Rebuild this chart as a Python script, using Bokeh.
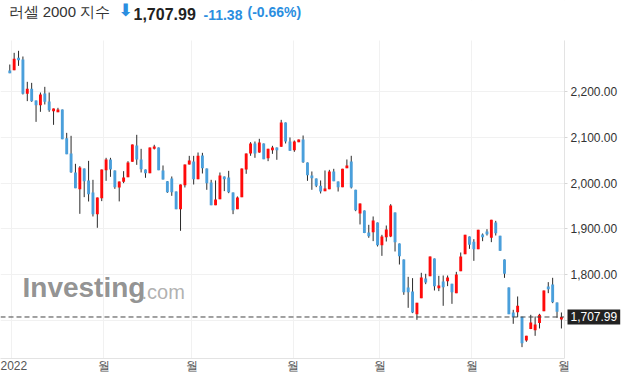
from bokeh.plotting import figure
from bokeh.models import FixedTicker, NumeralTickFormatter, Label, BoxAnnotation
from bokeh.embed import file_html
from bokeh.resources import INLINE

# ---- data (Russell 2000, daily candles) ----
opens = [2245.8, 2246.6, 2273.5, 2269.8, 2194.9, 2205.8, 2180.4, 2170.2, 2195.7, 2178.2,
         2157.1, 2154.9, 2160.7, 2098.2, 2064.7, 2023.3, 1986.9, 2032.0, 2005.8, 1979.6,
         1932.4, 1967.3, 2028.4, 2051.7, 2027.7, 1990.6, 2002.9, 2013.1, 2046.6, 2082.2,
         2051.7, 2029.8, 2021.8, 2074.9, 2077.8, 2027.7, 2004.4, 2010.2, 1981.8, 1943.3,
         1995.7, 2040.7, 2047.3, 2008.7, 2060.4, 2032.0, 2001.5, 1952.0, 1965.1, 2014.6,
         2012.4, 1979.7, 1943.3, 1969.5, 2029.8, 2064.8, 2086.6, 2067.0, 2086.6, 2054.6,
         2072.0, 2077.9, 2079.3, 2132.4, 2090.9, 2072.0, 2089.5, 2095.3, 2045.1, 2016.8,
         2010.2, 1994.2, 1982.6, 1986.9, 2025.5, 2003.7, 1991.3, 2032.8, 2047.3, 1985.5,
         1933.8, 1940.4, 1892.4, 1893.1, 1914.2, 1864.7, 1882.2, 1883.6, 1936.0, 1868.4,
         1833.5, 1772.4, 1763.6, 1714.2, 1749.1, 1792.0, 1797.1, 1835.6, 1770.9, 1785.4,
         1786.2, 1780.4, 1760.0, 1808.0, 1845.1, 1883.6, 1872.0, 1856.0, 1888.0, 1894.5,
         1880.7, 1914.2, 1885.1, 1833.5, 1772.4, 1717.8, 1718.5, 1708.4, 1656.7, 1681.5,
         1679.3, 1694.6, 1720.7, 1774.6, 1778.9, 1739.6, 1702.5]
highs = [2258.9, 2284.4, 2288.8, 2276.4, 2221.1, 2218.9, 2180.4, 2197.8, 2210.2, 2197.8,
         2162.9, 2164.4, 2160.7, 2109.8, 2103.3, 2042.2, 2037.1, 2032.0, 2048.7, 2007.3,
         1968.7, 2029.8, 2055.3, 2055.3, 2027.7, 2003.6, 2026.2, 2048.0, 2084.4, 2105.5,
         2074.9, 2029.8, 2077.8, 2083.7, 2077.8, 2038.6, 2004.4, 2014.6, 1981.8, 1997.1,
         2040.7, 2059.6, 2059.6, 2066.9, 2066.2, 2032.0, 2007.3, 2005.9, 2023.3, 2014.6,
         2026.9, 1979.7, 1971.0, 2032.0, 2064.8, 2089.5, 2090.9, 2096.8, 2086.6, 2075.0,
         2081.5, 2077.9, 2138.2, 2132.4, 2099.7, 2093.1, 2095.3, 2104.0, 2045.1, 2025.5,
         2010.2, 2005.9, 2027.7, 2029.1, 2031.3, 2003.7, 2031.3, 2051.7, 2059.7, 1985.5,
         1955.7, 1940.4, 1909.1, 1927.3, 1914.2, 1887.3, 1907.6, 1954.2, 1936.0, 1868.4,
         1833.5, 1795.6, 1792.7, 1738.9, 1804.4, 1802.2, 1840.0, 1835.6, 1797.8, 1798.5,
         1798.5, 1780.4, 1806.5, 1848.7, 1887.3, 1883.6, 1877.8, 1898.2, 1890.2, 1899.6,
         1920.0, 1917.8, 1885.1, 1833.5, 1772.4, 1723.6, 1752.7, 1708.4, 1666.9, 1712.7,
         1709.1, 1714.9, 1765.8, 1784.0, 1793.5, 1739.6, 1717.8]
lows = [2240.0, 2246.6, 2256.0, 2193.5, 2179.0, 2177.5, 2133.8, 2155.7, 2171.7, 2155.7,
        2127.3, 2154.9, 2096.0, 2063.3, 2022.6, 1989.1, 1933.1, 1969.5, 1960.0, 1927.3,
        1902.6, 1960.8, 2005.1, 2013.8, 1987.6, 1960.2, 2000.0, 2013.1, 2046.6, 2040.0,
        2023.3, 2011.7, 2021.8, 2073.5, 2028.4, 2008.0, 1978.9, 1972.4, 1943.3, 1896.0,
        1990.6, 2040.7, 1997.1, 2008.7, 2021.1, 1985.5, 1952.0, 1952.0, 1965.1, 1982.6,
        1978.2, 1932.4, 1943.3, 1969.5, 2020.4, 2059.7, 2055.3, 2066.2, 2052.4, 2048.0,
        2064.0, 2051.0, 2079.3, 2086.6, 2070.6, 2068.4, 2089.5, 2044.4, 2005.1, 1985.5,
        1991.3, 1977.5, 1982.6, 1986.9, 2004.4, 1981.8, 1991.3, 2032.8, 1988.4, 1938.9,
        1909.9, 1891.0, 1880.8, 1873.5, 1861.8, 1841.4, 1872.7, 1882.2, 1850.9, 1822.5,
        1756.4, 1728.0, 1716.4, 1701.8, 1749.1, 1779.6, 1797.1, 1765.8, 1764.4, 1732.4,
        1775.3, 1736.7, 1760.0, 1808.0, 1845.1, 1856.7, 1830.5, 1856.0, 1873.4, 1885.8,
        1871.3, 1885.8, 1852.3, 1793.4, 1714.2, 1693.1, 1707.6, 1642.2, 1653.8, 1681.5,
        1666.9, 1682.9, 1720.7, 1760.0, 1738.2, 1706.2, 1682.9]
closes = [2240.0, 2271.3, 2268.4, 2194.9, 2205.8, 2179.0, 2170.2, 2193.5, 2177.5, 2159.3,
          2162.9, 2160.7, 2096.0, 2063.3, 2024.0, 1989.1, 2034.2, 2004.4, 1976.0, 1932.4,
          1968.7, 2029.8, 2051.7, 2029.8, 1991.3, 2003.6, 2012.4, 2045.1, 2084.4, 2051.7,
          2030.6, 2021.8, 2077.8, 2080.0, 2028.4, 2008.0, 1980.4, 1980.4, 1943.3, 1997.1,
          2040.7, 2049.5, 2008.7, 2059.6, 2032.8, 2000.0, 1952.0, 1964.4, 2016.8, 2008.8,
          1980.4, 1941.1, 1968.8, 2032.0, 2064.8, 2086.6, 2064.8, 2088.8, 2052.4, 2075.0,
          2077.9, 2072.0, 2132.4, 2090.9, 2070.6, 2090.9, 2095.3, 2045.9, 2017.5, 2010.9,
          1994.2, 1981.8, 1988.4, 2025.5, 2004.4, 1991.3, 2031.3, 2038.6, 1990.6, 1941.1,
          1955.7, 1891.0, 1884.4, 1918.6, 1864.7, 1883.6, 1898.9, 1951.3, 1871.3, 1840.7,
          1762.2, 1762.2, 1717.8, 1738.9, 1794.2, 1783.3, 1840.0, 1775.3, 1776.7, 1773.1,
          1794.2, 1762.2, 1800.7, 1840.0, 1887.3, 1865.5, 1856.0, 1898.2, 1882.2, 1888.7,
          1920.0, 1890.9, 1852.3, 1802.2, 1714.2, 1707.6, 1732.4, 1650.9, 1666.9, 1696.0,
          1691.7, 1712.7, 1765.8, 1768.7, 1740.4, 1719.4, 1707.99]

month_ticks = [0.4, 21.5, 41.6, 64.7, 84.5, 105.5, 126.6]
month_labels = ["2022", "월", "월", "월", "월", "월", "월"]
price_ticks = [1700, 1800, 1900, 2000, 2100, 2200]

last_price = 1707.99
change_text = "-11.38"
change_pct_text = "(-0.66%)"
title_text = "러셀 2000 지수"
last_text = "1,707.99"

# visible windows (data units)
X_START, X_AXIS, X_END = -2.12, 126.7, 140.64
Y_LOW, Y_PLOT_TOP, Y_TOP = 1617.4, 2311.3, 2398.6

UP = "#ff0a0a"
DOWN = "#4a9fdb"
BLUE_TXT = "#2b8ee0"
FONT = "Liberation Sans"

idx = list(range(len(opens)))
tops = [max(o, c) for o, c in zip(opens, closes)]
bots = [min(o, c) for o, c in zip(opens, closes)]
cols = [UP if c >= o else DOWN for o, c in zip(opens, closes)]

p = figure(width=625, height=384,
           x_range=(X_START, X_END), y_range=(Y_LOW, Y_TOP),
           y_axis_location="right", output_backend="svg", toolbar_location=None,
           min_border=0, min_border_bottom=26)
p.outline_line_color = None
p.background_fill_color = "white"

# grid
p.xgrid.ticker = FixedTicker(ticks=month_ticks)
p.ygrid.ticker = FixedTicker(ticks=price_ticks)
p.grid.grid_line_color = "#f1f1f1"
p.grid.grid_line_width = 1

# keep the grid inside the chart area
p.add_layout(BoxAnnotation(left=X_AXIS, fill_color="white", fill_alpha=1.0,
                           line_color=None, level="underlay"))
p.add_layout(BoxAnnotation(bottom=Y_PLOT_TOP, fill_color="white", fill_alpha=1.0,
                           line_color=None, level="underlay"))

# watermark
p.add_layout(Label(x=22, y=56, x_units="screen", y_units="screen", text="Investing",
                   text_font=FONT, text_font_size="28px", text_font_style="bold",
                   text_color="#858585", text_alpha=0.9))
p.add_layout(Label(x=141, y=56, x_units="screen", y_units="screen", text=".com",
                   text_font=FONT, text_font_size="20px",
                   text_color="#a8a8a8", text_alpha=0.9))

# candles
p.segment(x0=idx, y0=lows, x1=idx, y1=highs, line_color="#2a2a2a", line_width=1)
p.vbar(x=idx, width=0.66, top=tops, bottom=bots, fill_color=cols, line_color=None)

# last price dashed line (up to the price axis)
p.segment(x0=[X_START], y0=[last_price], x1=[X_AXIS], y1=[last_price],
          line_color="#444444", line_dash="5 3", line_width=1)

# axes
xa = p.xaxis[0]
xa.ticker = FixedTicker(ticks=month_ticks)
xa.major_label_overrides = {t: l for t, l in zip(month_ticks, month_labels)}
xa.bounds = (X_START, X_AXIS)
xa.axis_line_color = "#e3e3e3"
xa.major_tick_line_color = None
xa.minor_tick_line_color = None
xa.major_tick_out = 0
xa.major_tick_in = 0
xa.major_label_standoff = 0
xa.major_label_text_font = FONT
xa.major_label_text_font_size = "12px"
xa.major_label_text_color = "#555555"

ya = p.yaxis[0]
ya.fixed_location = X_AXIS
ya.bounds = (Y_LOW, Y_PLOT_TOP)
ya.ticker = FixedTicker(ticks=price_ticks)
ya.formatter = NumeralTickFormatter(format="0,0.00")
ya.major_label_overrides = {1700: ""}
ya.axis_line_color = "#e3e3e3"
ya.major_tick_line_color = "#d6d6d6"
ya.major_tick_out = 3
ya.major_tick_in = 0
ya.minor_tick_line_color = None
ya.major_label_standoff = 3
ya.major_label_text_font = FONT
ya.major_label_text_font_size = "12px"
ya.major_label_text_color = "#333333"

# price box on the axis
p.add_layout(Label(x=567, y=last_price, x_units="screen", y_units="data", text=last_text,
                   text_font=FONT, text_font_size="12px", text_color="white",
                   text_baseline="middle", background_fill_color="#222222", padding=3))

# header
hy = 338.5
p.add_layout(Label(x=8, y=hy, x_units="screen", y_units="screen", text=title_text,
                   text_font=FONT, text_font_size="15px", text_color="#333333"))
p.add_layout(Label(x=118, y=hy, x_units="screen", y_units="screen", text="⬇",
                   text_font="DejaVu Sans", text_font_size="17px", text_font_style="bold",
                   text_color=BLUE_TXT))
p.add_layout(Label(x=133, y=hy, x_units="screen", y_units="screen", text=last_text,
                   text_font=FONT, text_font_size="16px", text_font_style="bold",
                   text_color="#222222"))
p.add_layout(Label(x=203, y=hy, x_units="screen", y_units="screen", text=change_text,
                   text_font=FONT, text_font_size="14px", text_font_style="bold",
                   text_color=BLUE_TXT))
p.add_layout(Label(x=247, y=hy, x_units="screen", y_units="screen", text=change_pct_text,
                   text_font=FONT, text_font_size="14px", text_font_style="bold",
                   text_color=BLUE_TXT))

open("out.html", "w").write(file_html(p, INLINE))
